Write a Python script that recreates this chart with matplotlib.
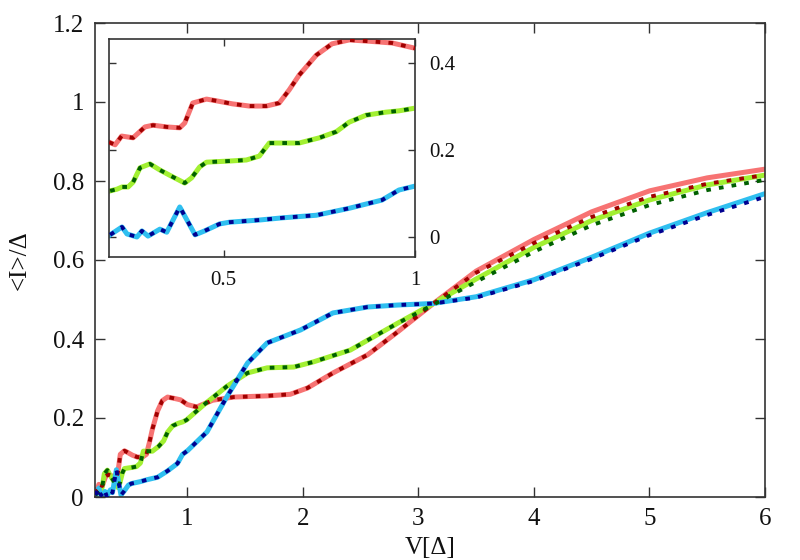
import matplotlib
matplotlib.use("Agg")
import matplotlib.pyplot as plt

plt.rcParams['font.family'] = ['Liberation Serif', 'DejaVu Serif']

# ---------------- data ----------------
v_red = [0.2, 0.216, 0.233, 0.263, 0.294, 0.315, 0.351, 0.385, 0.398, 0.419, 0.455, 0.481,
         0.523, 0.567, 0.611, 0.645, 0.671, 0.697, 0.742, 0.783, 0.828, 0.88, 0.94, 1.0,
         1.08, 1.22, 1.4, 1.69, 1.89, 2.04, 2.26, 2.56, 2.82, 3.13, 3.5, 4.0, 4.5, 5.0, 5.5, 6.0]
i_red = [0.018, 0.012, 0.032, 0.028, 0.053, 0.057, 0.053, 0.051, 0.062, 0.108, 0.117, 0.113,
         0.106, 0.101, 0.101, 0.108, 0.138, 0.172, 0.218, 0.244, 0.253, 0.25, 0.246, 0.234,
         0.228, 0.245, 0.253, 0.256, 0.26, 0.276, 0.314, 0.36, 0.418, 0.49, 0.572, 0.652, 0.722, 0.775, 0.808, 0.83]

v_green = [0.203, 0.221, 0.234, 0.25, 0.263, 0.281, 0.307, 0.333, 0.367, 0.398, 0.416, 0.437,
           0.455, 0.523, 0.559, 0.593, 0.619, 0.653, 0.697, 0.75, 0.794, 0.828, 0.872, 0.924,
           0.958, 0.992, 1.14, 1.34, 1.52, 1.69, 1.92, 2.09, 2.41, 2.82, 3.13, 3.5, 4.0, 4.5, 5.0, 5.5, 6.0]
i_green = [0.006, 0.010, 0.015, 0.015, 0.026, 0.059, 0.068, 0.054, 0.038, 0.024, 0.036, 0.061,
           0.072, 0.075, 0.077, 0.086, 0.116, 0.116, 0.116, 0.128, 0.142, 0.164, 0.18, 0.187,
           0.19, 0.195, 0.233, 0.28, 0.314, 0.327, 0.329, 0.342, 0.372, 0.44, 0.49, 0.552, 0.632, 0.70, 0.752, 0.79, 0.815]

v_blue = [0.203, 0.234, 0.247, 0.273, 0.286, 0.302, 0.333, 0.351, 0.385, 0.425, 0.45, 0.489,
          0.515, 0.593, 0.653, 0.742, 0.828, 0.914, 0.958, 1.0, 1.17, 1.34, 1.52, 1.69, 1.98,
          2.26, 2.56, 2.82, 3.13, 3.5, 4.0, 4.5, 5.0, 5.5, 6.0]
i_blue = [0.005, 0.023, 0.007, 0.0, 0.014, 0.002, 0.018, 0.011, 0.069, 0.005, 0.014, 0.03,
          0.034, 0.039, 0.044, 0.05, 0.066, 0.085, 0.108, 0.117, 0.165, 0.253, 0.339, 0.39, 0.423,
          0.466, 0.481, 0.486, 0.49, 0.507, 0.55, 0.607, 0.668, 0.72, 0.768]

# dotted curves coincide with the solid ones below V=3.13, then separate slightly
v_tail = [3.13, 3.5, 4.0, 4.5, 5.0, 5.5, 6.0]
i_red_dot_tail = [0.49, 0.568, 0.643, 0.709, 0.76, 0.793, 0.815]
i_green_dot_tail = [0.487, 0.545, 0.621, 0.688, 0.739, 0.777, 0.803]
i_blue_dot_tail = [0.49, 0.505, 0.547, 0.603, 0.663, 0.714, 0.76]

# vertical offsets used in the inset
off_red, off_green, off_blue = 0.2, 0.1, 0.0

main_xticks = [1, 2, 3, 4, 5, 6]
main_yticks = [0, 0.2, 0.4, 0.6, 0.8, 1.0, 1.2]
main_yticklabels = ['0', '0.2', '0.4', '0.6', '0.8', '1', '1.2']
inset_xticks = [0.5, 1]
inset_xticklabels = ['0.5', '1']
inset_yticks = [0, 0.2, 0.4]
inset_yticklabels = ['0', '0.2', '0.4']

# ---------------- styles ----------------
c_red, c_red_d = '#f77373', '#a00000'
c_green, c_green_d = '#a2f032', '#006000'
c_blue, c_blue_d = '#2fbff0', '#000090'
lw_solid = 3.6
lw_dot = 2.8
dot_ls = (0, (1.2, 2.1))
spine_col = '#333333'
text_col = '#111111'


def dotted(v, i, tail):
    vv = [x for x in v if x < v_tail[0]] + v_tail
    ii = [y for x, y in zip(v, i) if x < v_tail[0]] + tail
    return vv, ii


fig = plt.figure(figsize=(8, 5.6), dpi=100)
ax = fig.add_axes([95/800, 1-497/560, (765-95)/800, (497-23)/560])

series = [(v_red, i_red, i_red_dot_tail, c_red, c_red_d),
          (v_green, i_green, i_green_dot_tail, c_green, c_green_d),
          (v_blue, i_blue, i_blue_dot_tail, c_blue, c_blue_d)]

for v, i, tail, cs, cd in series:
    ax.plot(v, i, color=cs, lw=lw_solid, solid_capstyle='round', zorder=2)
    vd, idd = dotted(v, i, tail)
    ax.plot(vd, idd, color=cd, lw=lw_dot, ls=dot_ls, dash_capstyle='butt', zorder=3)

ax.set_xlim(0.2, 6)
ax.set_ylim(0, 1.2)
ax.set_xticks(main_xticks)
ax.set_xticklabels([str(t) for t in main_xticks])
ax.set_yticks(main_yticks)
ax.set_yticklabels(main_yticklabels)
ax.tick_params(direction='in', length=7, width=1, colors=spine_col, labelcolor=text_col,
               labelsize=18, top=True, right=True, pad=8)
for s in ax.spines.values():
    s.set_color(spine_col)
    s.set_linewidth(1.2)
ax.set_xlabel('V[Δ]', fontsize=18, labelpad=5, color=text_col)
ax.set_ylabel('<I>/Δ', fontsize=18, labelpad=16, color=text_col)

# ---------------- inset ----------------
ins = fig.add_axes([109/800, 1-257/560, (415-109)/800, (257-39.5)/560])
for (v, i, tail, cs, cd), off in zip(series, [off_red, off_green, off_blue]):
    m = [x <= 1.05 for x in v]
    vv = [x for x, k in zip(v, m) if k]
    ii = [y + off for y, k in zip(i, m) if k]
    ins.plot(vv, ii, color=cs, lw=lw_solid, zorder=2)
    ins.plot(vv, ii, color=cd, lw=lw_dot, ls=dot_ls, dash_capstyle='butt', zorder=3)
ins.set_xlim(0.2, 1)
ins.set_ylim(-0.046, 0.454)
ins.set_xticks(inset_xticks)
ins.set_xticklabels(inset_xticklabels)
ins.set_yticks(inset_yticks)
ins.set_yticklabels(inset_yticklabels)
ins.yaxis.tick_right()
ins.tick_params(direction='in', length=5, width=1, colors=spine_col, labelcolor=text_col,
                labelsize=15, top=True, left=True, right=True, pad=10)
for s in ins.spines.values():
    s.set_color(spine_col)
    s.set_linewidth(1.2)

fig.savefig('out.png', dpi=100)
